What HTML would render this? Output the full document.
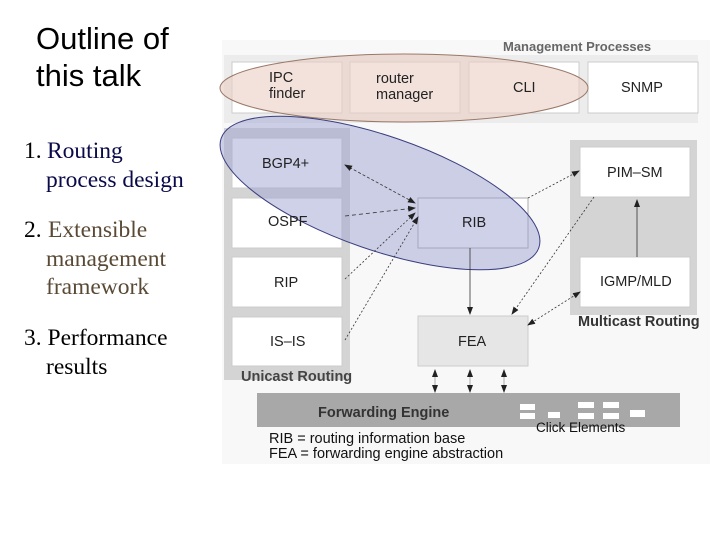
<!DOCTYPE html>
<html><head><meta charset="utf-8"><style>
html,body{margin:0;padding:0;background:#fff;width:720px;height:540px;overflow:hidden}
svg{position:absolute;left:0;top:0}
</style></head><body>
<svg width="720" height="540" viewBox="0 0 720 540" xmlns="http://www.w3.org/2000/svg">
<defs>
<marker id="a" markerWidth="8" markerHeight="6" refX="7" refY="3" orient="auto" markerUnits="userSpaceOnUse"><path d="M0,0 L8,3 L0,6 z" fill="#222"/></marker>
<marker id="b" markerWidth="8" markerHeight="6" refX="1" refY="3" orient="auto" markerUnits="userSpaceOnUse"><path d="M8,0 L0,3 L8,6 z" fill="#222"/></marker>
</defs>
<rect x="222" y="40" width="488" height="424" fill="#f8f8f8"/>
<g font-family="Liberation Sans, sans-serif">
<text x="36" y="49" font-size="31" fill="#000">Outline of</text>
<text x="36" y="86" font-size="31" fill="#000">this talk</text>
</g>
<g font-family="Liberation Serif, serif" font-size="23.5">
<text x="24" y="158" fill="#000">1.</text><text x="47" y="158" fill="#0a0a4a">Routing</text>
<text x="46" y="187" fill="#0a0a4a">process design</text>
<text x="24" y="237" fill="#000">2.</text><text x="48" y="237" fill="#5a4a35">Extensible</text>
<text x="46" y="266" fill="#5a4a35">management</text>
<text x="46" y="294" fill="#5a4a35">framework</text>
<text x="24" y="345" fill="#000">3. Performance</text>
<text x="46" y="374" fill="#000">results</text>
</g>
<g font-family="Liberation Sans, sans-serif" font-size="14.5" fill="#222">
<text x="503" y="51" font-size="13" font-weight="bold" fill="#666">Management Processes</text>
<rect x="224" y="55" width="474" height="68" fill="#ececec"/>
<rect x="232" y="62" width="110" height="51" fill="#fff" stroke="#ccc"/>
<rect x="350" y="62" width="110" height="51" fill="#fff" stroke="#ccc"/>
<rect x="469" y="62" width="110" height="51" fill="#fff" stroke="#ccc"/>
<rect x="588" y="62" width="110" height="51" fill="#fff" stroke="#ccc"/>
<ellipse cx="404" cy="88" rx="184" ry="34" fill="#e9cfc3" fill-opacity="0.6" stroke="#9a7868"/>
<text x="269" y="82">IPC</text><text x="269" y="98">finder</text>
<text x="376" y="83">router</text><text x="376" y="99">manager</text>
<text x="513" y="92">CLI</text>
<text x="621" y="92">SNMP</text>
<rect x="224" y="128" width="126" height="252" fill="#d4d4d4"/>
<rect x="232" y="138" width="110" height="50" fill="#fff" stroke="#ccc"/>
<rect x="232" y="198" width="110" height="50" fill="#fff" stroke="#ccc"/>
<rect x="232" y="257" width="110" height="50" fill="#fff" stroke="#ccc"/>
<rect x="232" y="317" width="110" height="49" fill="#fff" stroke="#ccc"/>
<text x="241" y="381" font-weight="bold" fill="#444">Unicast Routing</text>
<rect x="570" y="140" width="127" height="175" fill="#d4d4d4"/>
<rect x="580" y="147" width="110" height="50" fill="#fff" stroke="#ccc"/>
<rect x="580" y="257" width="110" height="50" fill="#fff" stroke="#ccc"/>
<text x="578" y="326" font-weight="bold" fill="#333">Multicast Routing</text>
<rect x="418" y="198" width="110" height="50" fill="#fff" stroke="#aaa"/>
<rect x="418" y="316" width="110" height="50" fill="#e6e6e6" stroke="#ccc"/>
<ellipse cx="380" cy="193" rx="168" ry="57" transform="rotate(19 380 193)" fill="#9fa3d3" fill-opacity="0.5" stroke="#3a3f80"/>
<text x="262" y="168">BGP4+</text>
<text x="268" y="226">OSPF</text>
<text x="274" y="287">RIP</text>
<text x="270" y="346">IS–IS</text>
<text x="462" y="227">RIB</text>
<text x="458" y="346">FEA</text>
<text x="607" y="177">PIM–SM</text>
<text x="600" y="286">IGMP/MLD</text>
<g stroke="#333" stroke-width="0.8" fill="none">
<line x1="345" y1="165" x2="415" y2="203" stroke-dasharray="3,2" marker-start="url(#b)" marker-end="url(#a)"/>
<line x1="345" y1="216" x2="415" y2="208" stroke-dasharray="4,3" marker-end="url(#a)"/>
<line x1="345" y1="279" x2="415" y2="213" stroke-dasharray="2,2" marker-end="url(#a)"/>
<line x1="345" y1="340" x2="418" y2="217" stroke-dasharray="2,2" marker-end="url(#a)"/>
<line x1="470" y1="248" x2="470" y2="314" marker-end="url(#a)"/>
<line x1="594" y1="197" x2="512" y2="314" stroke-dasharray="2,2" marker-end="url(#a)"/>
<line x1="528" y1="198" x2="579" y2="171" stroke-dasharray="2,2" marker-end="url(#a)"/>
<line x1="580" y1="292" x2="528" y2="325" stroke-dasharray="2,2" marker-start="url(#b)" marker-end="url(#a)"/>
<line x1="637" y1="257" x2="637" y2="200" marker-end="url(#a)"/>
<line x1="435" y1="370" x2="435" y2="392" stroke="#999" marker-start="url(#b)" marker-end="url(#a)"/>
<line x1="470" y1="370" x2="470" y2="392" stroke="#999" marker-start="url(#b)" marker-end="url(#a)"/>
<line x1="504" y1="370" x2="504" y2="392" stroke="#999" marker-start="url(#b)" marker-end="url(#a)"/>
</g>
<rect x="257" y="393" width="423" height="34" fill="#a8a8a8"/>
<text x="318" y="417" font-weight="bold" fill="#333">Forwarding Engine</text>
<g fill="#fff">
<rect x="520" y="404" width="15" height="6"/><rect x="520" y="413" width="15" height="6"/>
<rect x="548" y="412" width="12" height="6"/>
<rect x="578" y="402" width="16" height="6"/><rect x="578" y="413" width="16" height="6"/>
<rect x="603" y="402" width="16" height="6"/><rect x="603" y="413" width="16" height="6"/>
<rect x="630" y="410" width="15" height="7"/>
</g>
<text x="536" y="432" font-size="13.5" fill="#111">Click Elements</text>
<text x="269" y="443" font-size="14.5" fill="#111">RIB = routing information base</text>
<text x="269" y="458" font-size="14.5" fill="#111">FEA = forwarding engine abstraction</text>
</g>
</svg>
</body></html>
